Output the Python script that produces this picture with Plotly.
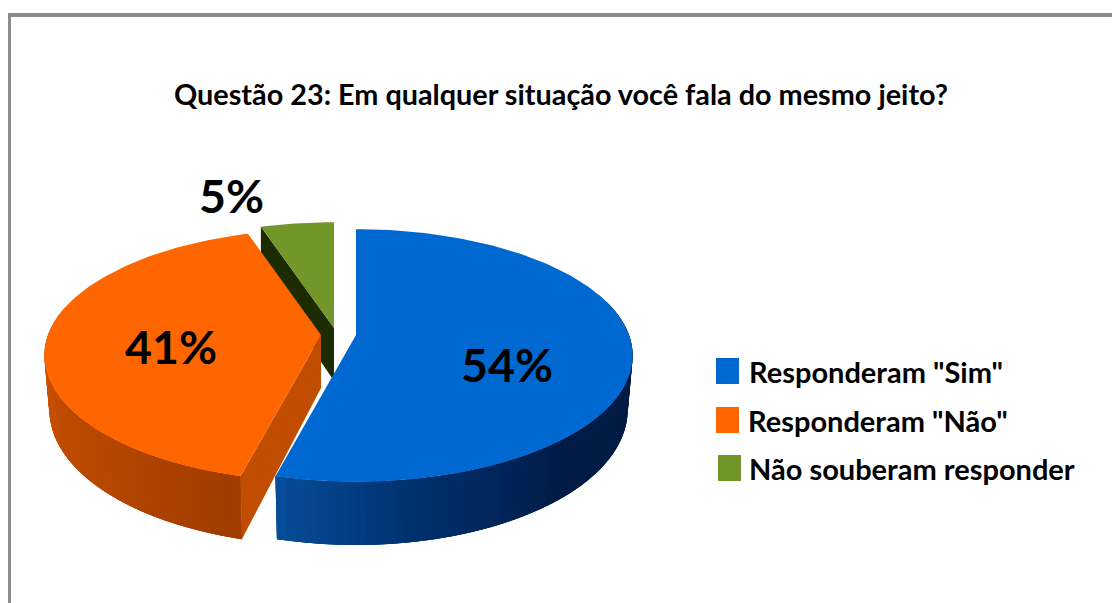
import numpy as np
import plotly.graph_objects as go

categories = ['Responderam "Sim"', 'Responderam "Não"', 'Não souberam responder']
values = [54, 41, 5]
title_text = "Questão 23: Em qualquer situação você fala do mesmo jeito?"

# styles / layout constants (pixel space of the 1112x603 page)
FONT = "Lato, Carlito, Calibri, sans-serif"
top_colors = ["#0069D1", "#FF6600", "#72962A"]
A, B, K, DEPTH = 273.0, 123.0, 0.162, 53.0
apex = [(356, 335), (321, 335), (334, 328)]
label_pos = [(507, 364), (171, 346), (231, 195)]
legend_y = [371, 420, 468]
legend_x = [747, 746, 747]
swatch_x = [716, 716, 718]


def project(theta_deg, cx, cy, r=1.0, down=0.0):
    t = np.radians(theta_deg)
    u, v = r * np.sin(t), -r * np.cos(t)
    s = 1.0 / (1.0 - K * v)
    scale = 1.0 - 0.018 * (down > 0)
    return cx + A * u * s * scale, cy + B * v * s + down * s


def lerp_color(stops, f):
    pos = [p for p, _ in stops]
    rgb = [[int(c[i:i + 2], 16) for c in [h for _, h in stops]] for i in (1, 3, 5)]
    return "rgb(%d,%d,%d)" % tuple(np.interp(f, pos, ch) for ch in rgb)


fig = go.Figure()


def poly(xs, ys, color):
    fig.add_trace(go.Scatter(
        x=list(xs), y=list(ys), mode="lines", fill="toself", fillcolor=color,
        line=dict(color=color, width=0), hoverinfo="skip", showlegend=False))


def rim(grid, cx, cy, stops):
    # painted far end first; each band runs past its neighbour so no seam shows
    n = len(grid) - 1
    for i in range(n):
        a, b = grid[i], grid[min(i + 3, n)]
        th = np.linspace(a, b, 5)
        xa, ya = project(th, cx, cy)
        xb, yb = project(th[::-1], cx, cy, down=DEPTH)
        poly(np.r_[xa, xb], np.r_[ya, yb], lerp_color(stops, i / (n - 1)))


# cumulative angles derived from the values
total = sum(values)
edges = np.cumsum([0] + values) / total * 360.0
starts, ends = edges[:-1], edges[1:]

# --- green slice: dark cut face, then top
cx, cy = apex[2]
x0, y0 = project(starts[2], cx, cy)
poly([cx, x0, x0, cx], [cy, y0, y0 + DEPTH * 0.87, cy + DEPTH], "#1C2B00")
th = np.linspace(starts[2], ends[2], 20)
x, y = project(th, cx, cy)
poly(np.r_[cx, x], np.r_[cy, y], top_colors[2])

# --- orange slice: rim, cut face, top
cx, cy = apex[1]
orange_stops = [(0.0, "#DC5C00"), (0.3, "#C85000"), (0.65, "#B84800"), (1.0, "#A03C00")]
rim_end = min(ends[1], 285.0)
rim(np.linspace(rim_end, starts[1], 60), cx, cy, orange_stops)
x0, y0 = project(starts[1], cx, cy)
x1, y1 = project(starts[1], cx, cy, down=DEPTH)
poly([cx, x0, x1, cx], [cy, y0, y1, cy + DEPTH], "#C04D00")
th = np.linspace(starts[1], ends[1], 120)
x, y = project(th, cx, cy)
poly(np.r_[cx, x], np.r_[cy, y], top_colors[1])

# --- blue slice: rim, top
cx, cy = apex[0]
blue_stops = [(0.0, "#001A40"), (0.55, "#001C46"), (0.8, "#00306E"), (1.0, "#064C98")]
rim(np.linspace(70.0, ends[0], 70), cx, cy, blue_stops)
th = np.linspace(starts[0], ends[0], 140)
x, y = project(th, cx, cy)
poly(np.r_[cx, x], np.r_[cy, y], top_colors[0])

# --- data labels, title, legend
ann = [dict(x=561, y=94, text=f"<b>{title_text}</b>", showarrow=False,
            font=dict(family=FONT, size=28.8, color="#000000"))]
for v, (px, py) in zip(values, label_pos):
    ann.append(dict(x=px, y=py, text=f"<b>{v}%</b>", showarrow=False,
                    font=dict(family=FONT, size=46.5, color="#000000")))
shapes = [
    dict(type="line", x0=9.5, x1=9.5, y0=15, y1=603, line=dict(color="#8C8C8C", width=3)),
    dict(type="line", x0=8, x1=1112, y0=15, y1=15, line=dict(color="#8C8C8C", width=4)),
]
for name, c, ly, lx, sx in zip(categories, top_colors, legend_y, legend_x, swatch_x):
    ann.append(dict(x=lx, y=ly, text=f"<b>{name}</b>", xanchor="left", showarrow=False,
                    font=dict(family=FONT, size=29, color="#000000")))
    shapes.append(dict(type="rect", x0=sx, x1=sx + 23, y0=ly - 13, y1=ly + 13,
                       fillcolor=c, line=dict(width=0)))

fig.update_layout(
    width=1112, height=603, margin=dict(l=0, r=0, t=0, b=0),
    paper_bgcolor="white", plot_bgcolor="white", showlegend=False,
    xaxis=dict(range=[0, 1112], visible=False, fixedrange=True),
    yaxis=dict(range=[603, 0], visible=False, fixedrange=True),
    annotations=ann, shapes=shapes,
)
fig.write_html("out.html", config=dict(displayModeBar=False),
               post_script="document.body.style.margin='0';document.body.style.overflow='hidden';")
